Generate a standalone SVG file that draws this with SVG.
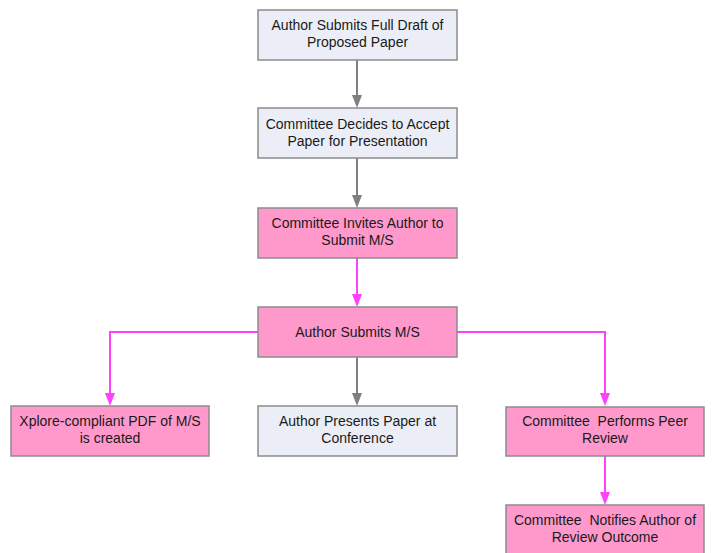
<svg xmlns="http://www.w3.org/2000/svg" width="712" height="553" viewBox="0 0 712 553">
<style>
.box rect{stroke:#8c8c8c;stroke-width:1.5}
.blue rect{fill:#ebeef6}
.pink rect{fill:#ff99cc}
text{font-family:"Liberation Sans",Arial,sans-serif;font-size:14px;fill:#1a1a1a;text-anchor:middle;white-space:pre}
.g{stroke:#808080;stroke-width:2;fill:none}
.m{stroke:#ff40ff;stroke-width:2;fill:none}
</style>
<rect width="712" height="553" fill="#fff"/>
<g id="connectors">
<path class="g" d="M357,60 V96"/><path d="M352,95 L362,95 L357,108 Z" fill="#808080"/>
<path class="g" d="M357,158 V196"/><path d="M352,195 L362,195 L357,208 Z" fill="#808080"/>
<path class="m" d="M357,258 V295"/><path d="M352,294 L362,294 L357,307 Z" fill="#ff40ff"/>
<path class="m" d="M258,332 H110 V394"/><path d="M105,393 L115,393 L110,406 Z" fill="#ff40ff"/>
<path class="g" d="M357,357 V394"/><path d="M352,393 L362,393 L357,406 Z" fill="#808080"/>
<path class="m" d="M457,332 H605 V394"/><path d="M600,393 L610,393 L605,406 Z" fill="#ff40ff"/>
<path class="m" d="M605,456 V493"/><path d="M600,492 L610,492 L605,505 Z" fill="#ff40ff"/>
</g>
<g id="n1" class="box blue"><rect x="258" y="10" width="199" height="50"/><text x="357.5" y="30">Author Submits Full Draft of</text><text x="357.5" y="47">Proposed Paper</text></g>
<g id="n2" class="box blue"><rect x="258" y="108" width="199" height="50"/><text x="357.5" y="129">Committee Decides to Accept</text><text x="357.5" y="146">Paper for Presentation</text></g>
<g id="n3" class="box pink"><rect x="258" y="208" width="199" height="50"/><text x="357.5" y="228">Committee Invites Author to</text><text x="357.5" y="245">Submit M/S</text></g>
<g id="n4" class="box pink"><rect x="258" y="307" width="199" height="50"/><text x="357.5" y="337">Author Submits M/S</text></g>
<g id="n5" class="box pink"><rect x="11" y="406" width="198" height="50"/><text x="110" y="426">Xplore-compliant PDF of M/S</text><text x="110" y="443">is created</text></g>
<g id="n6" class="box blue"><rect x="258" y="406" width="199" height="50"/><text x="357.5" y="426">Author Presents Paper at</text><text x="357.5" y="443">Conference</text></g>
<g id="n7" class="box pink"><rect x="506" y="407" width="198" height="49"/><text x="605" y="426">Committee  Performs Peer</text><text x="605" y="443">Review</text></g>
<g id="n8" class="box pink"><rect x="506" y="505" width="198" height="50"/><text x="605" y="525">Committee  Notifies Author of</text><text x="605" y="542">Review Outcome</text></g>
</svg>
